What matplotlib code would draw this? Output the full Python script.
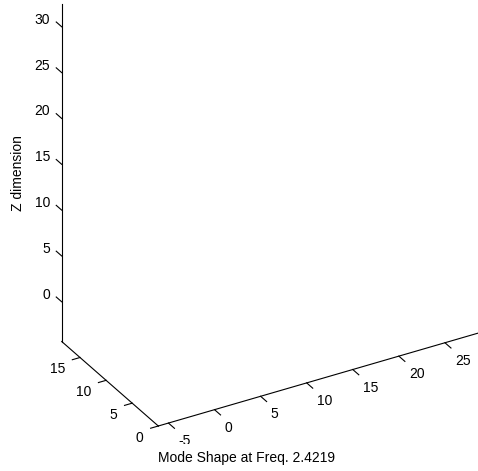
import numpy as np
import matplotlib
matplotlib.use("Agg")
import matplotlib.pyplot as plt

# axis limits and ticks of the (empty) 3-D mode-shape plot
x_lim = (-6.1, 30.0)
y_lim = (0.0, 18.5)
z_lim = (-4.33, 32.5)
x_ticks = [-5, 0, 5, 10, 15, 20, 25]
y_ticks = [0, 5, 10, 15]
z_ticks = [0, 5, 10, 15, 20, 25, 30]
z_label = "Z dimension"
x_label = "Mode Shape at Freq. 2.4219"

# orthographic view: pixel position of the box corner and per-unit screen vectors
corner = np.array([158.3, 426.0])
ex = np.array([9.217, -2.677])
ey = np.array([-5.22, -4.567])
ez = np.array([0.0, -9.167])


def project(x, y, z):
    return (corner + (x - x_lim[0]) * ex + (y - y_lim[0]) * ey
            + (z - z_lim[0]) * ez)


def unit(v):
    return v / np.linalg.norm(v)


plt.rcParams["font.family"] = ["Liberation Sans", "DejaVu Sans"]
fig = plt.figure(figsize=(4.78, 4.71), dpi=100)
ax = fig.add_axes([0, 0, 1, 1])
ax.set_xlim(0, 478)
ax.set_ylim(471, 0)
ax.axis("off")

lw = 0.8
tick_len = 8.0

# axis lines
p = np.array([project(x_lim[0], y_lim[0], z_lim[0]), project(x_lim[1], y_lim[0], z_lim[0])])
ax.plot(p[:, 0], p[:, 1], color="black", lw=lw)
p = np.array([project(x_lim[0], y_lim[0], z_lim[0]), project(x_lim[0], y_lim[1], z_lim[0])])
ax.plot(p[:, 0], p[:, 1], color="black", lw=lw)
p = np.array([project(x_lim[0], y_lim[1], z_lim[0]), project(x_lim[0], y_lim[1], z_lim[1])])
ax.plot(p[:, 0], p[:, 1], color="black", lw=lw)

# x ticks point towards -y
d = unit(-ey) * tick_len
for t in x_ticks:
    a = project(t, y_lim[0], z_lim[0])
    ax.plot([a[0], a[0] + d[0]], [a[1], a[1] + d[1]], color="black", lw=lw)
    ax.text(a[0] + 10, a[1] + 18, str(t), ha="left", va="center", fontsize=10)

# y ticks point towards -x
d = unit(-ex) * tick_len
for t in y_ticks:
    a = project(x_lim[0], t, z_lim[0])
    ax.plot([a[0], a[0] + d[0]], [a[1], a[1] + d[1]], color="black", lw=lw)
    ax.text(a[0] - 15, a[1] + 11.8, str(t), ha="right", va="center", fontsize=10)

# z ticks point towards +y
d = unit(ey) * 7.3
for t in z_ticks:
    a = project(x_lim[0], y_lim[1], t)
    ax.plot([a[0], a[0] + d[0]], [a[1], a[1] + d[1]], color="black", lw=lw)
    ax.text(a[0] - 11.7, a[1] - 7, str(t), ha="right", va="center", fontsize=10)

ax.text(18.3, 173.5, z_label, rotation=90, ha="center", va="center", fontsize=10)
ax.text(246.7, 458, x_label, ha="center", va="center", fontsize=10, zorder=5,
        bbox=dict(boxstyle="square,pad=0.5", fc="white", ec="none"))

fig.savefig("out.png", dpi=100)
